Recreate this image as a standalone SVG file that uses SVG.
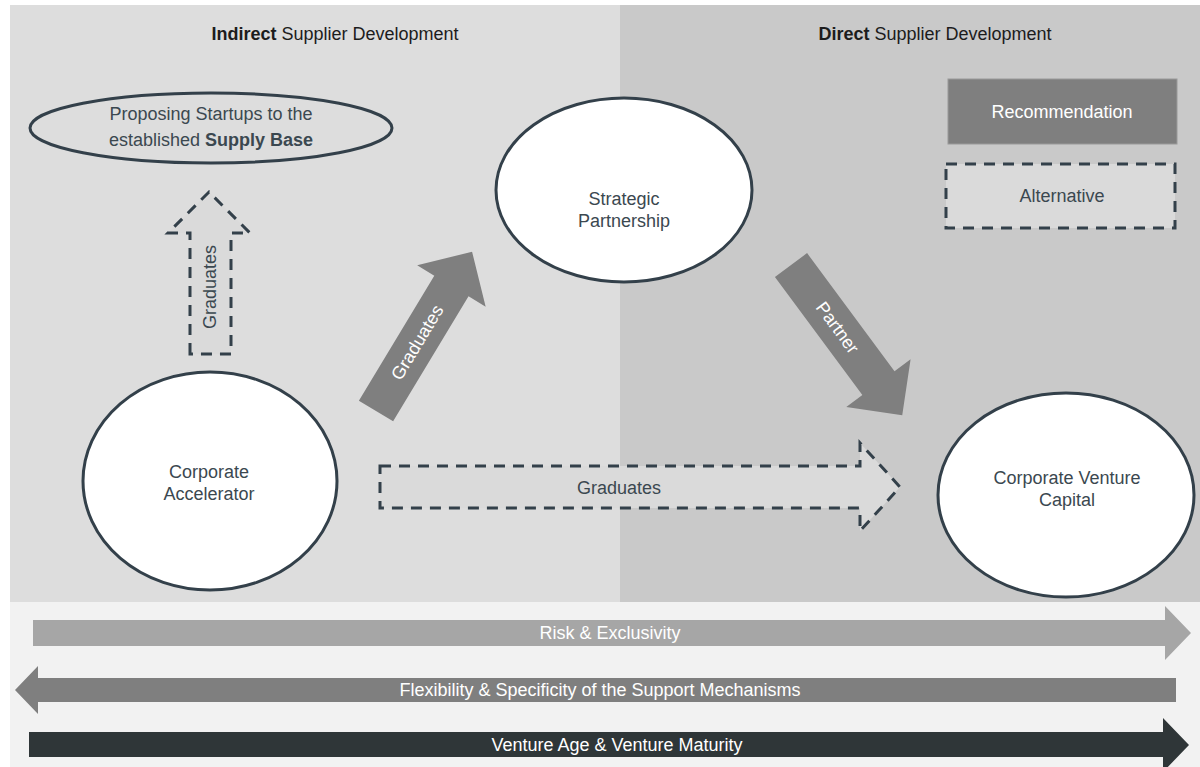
<svg xmlns="http://www.w3.org/2000/svg" width="1200" height="767" viewBox="0 0 1200 767">
  <style>
    .lbl { font-family: "Liberation Sans", Arial, sans-serif; font-size: 18px; fill: #3b4850; text-anchor: middle; }
    .head { font-family: "Liberation Sans", Arial, sans-serif; font-size: 18px; fill: #1c1c1c; text-anchor: middle; }
    .wt { font-family: "Liberation Sans", Arial, sans-serif; font-size: 18px; fill: #ffffff; text-anchor: middle; }
    .node { fill: #ffffff; stroke: #33404a; stroke-width: 3; }
    .dash { fill: #dadada; stroke: #33404a; stroke-width: 3; stroke-dasharray: 11 8; }
    .solid { fill: #7f7f7f; }
  </style>

  <!-- background areas -->
  <rect x="10" y="5" width="610" height="597" fill="#dddddd"/>
  <rect x="620" y="5" width="580" height="597" fill="#c9c9c9"/>
  <rect x="10" y="602" width="1190" height="165" fill="#f2f2f2"/>

  <!-- section titles -->
  <text class="head" x="335" y="40"><tspan font-weight="bold">Indirect</tspan> Supplier Development</text>
  <text class="head" x="935" y="40"><tspan font-weight="bold">Direct</tspan> Supplier Development</text>

  <!-- legend -->
  <g id="legend-recommendation">
    <rect x="948" y="79" width="229" height="65" fill="#7f7f7f" stroke="#9a9a9a" stroke-width="1"/>
    <text class="wt" x="1062" y="118">Recommendation</text>
  </g>
  <g id="legend-alternative">
    <rect x="946" y="164" width="229" height="64" class="dash" fill="#d8d8d8"/>
    <text class="lbl" x="1062" y="202">Alternative</text>
  </g>

  <!-- connectors -->
  <g id="connectors">
    <!-- accelerator to supply base (alternative) -->
    <polygon class="dash" points="190,354 190,233 168,233 209,192 250,233 231,233 231,354"/>
    <text class="lbl" transform="translate(216,287) rotate(-90)">Graduates</text>

    <!-- accelerator to strategic partnership -->
    <g transform="translate(376,411) rotate(-58.9)">
      <polygon class="solid" points="0,-20 146,-20 146,-40 186,0 146,40 146,20 0,20"/>
      <text class="wt" x="80" y="6">Graduates</text>
    </g>

    <!-- strategic partnership to venture capital -->
    <g transform="translate(791,265) rotate(53.5)">
      <polygon class="solid" points="0,-20 147,-20 147,-40 187,0 147,40 147,20 0,20"/>
      <text class="wt" x="78" y="6">Partner</text>
    </g>

    <!-- accelerator to venture capital (alternative) -->
    <polygon class="dash" points="380,466 860,466 860,443 900,487 860,531 860,508 380,508"/>
    <text class="lbl" x="619" y="494">Graduates</text>
  </g>

  <!-- nodes -->
  <g id="supply-base">
    <ellipse cx="211" cy="128" rx="181" ry="35" fill="#dddddd" stroke="#33404a" stroke-width="3"/>
    <text class="lbl" x="211" y="120">Proposing Startups to the</text>
    <text class="lbl" x="211" y="146">established <tspan font-weight="bold">Supply Base</tspan></text>
  </g>
  <g id="strategic-partnership">
    <ellipse class="node" cx="624" cy="190" rx="128" ry="92"/>
    <text class="lbl" x="624" y="205">Strategic</text>
    <text class="lbl" x="624" y="227">Partnership</text>
  </g>
  <g id="corporate-accelerator">
    <ellipse class="node" cx="210" cy="481" rx="127" ry="109"/>
    <text class="lbl" x="209" y="478">Corporate</text>
    <text class="lbl" x="209" y="500">Accelerator</text>
  </g>
  <g id="corporate-venture-capital">
    <ellipse class="node" cx="1066" cy="495" rx="128" ry="102"/>
    <text class="lbl" x="1067" y="484">Corporate Venture</text>
    <text class="lbl" x="1067" y="506">Capital</text>
  </g>

  <!-- dimension arrows -->
  <g id="risk-exclusivity">
    <polygon fill="#a6a6a6" points="33,620 1165,620 1165,606 1191,633 1165,660 1165,646 33,646"/>
    <text class="wt" x="610" y="639">Risk &amp; Exclusivity</text>
  </g>
  <g id="flexibility-specificity">
    <polygon fill="#7f7f7f" points="1176,678 38,678 38,666 15,690 38,714 38,702 1176,702"/>
    <text class="wt" x="600" y="696">Flexibility &amp; Specificity of the Support Mechanisms</text>
  </g>
  <g id="venture-age">
    <polygon fill="#2f3638" points="29,732 1163,732 1163,718 1189,745 1163,772 1163,757 29,757"/>
    <text class="wt" x="617" y="751">Venture Age &amp; Venture Maturity</text>
  </g>
</svg>
